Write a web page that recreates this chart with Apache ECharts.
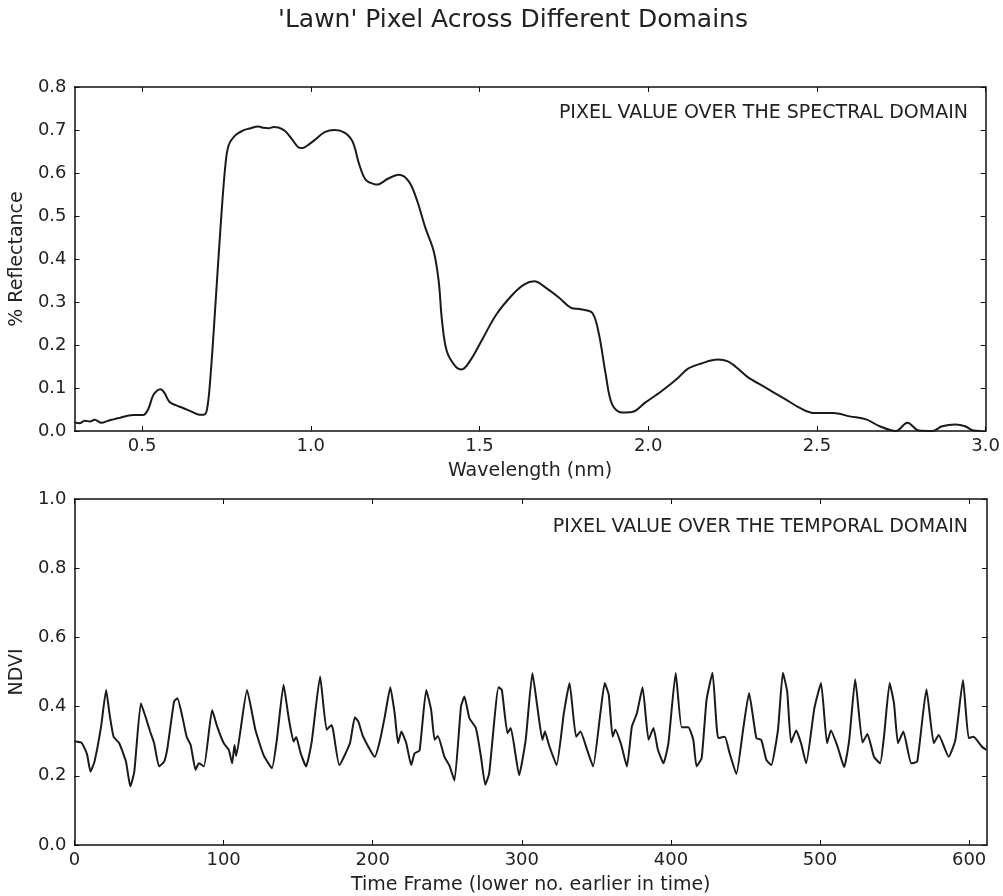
<!DOCTYPE html>
<html>
<head>
<meta charset="utf-8">
<title>'Lawn' Pixel Across Different Domains</title>
<script src="https://cdn.jsdelivr.net/npm/echarts@6/dist/echarts.min.js"></script>
<style>
  html, body { margin: 0; padding: 0; background: #fff; }
  #chart { width: 1003px; height: 896px; }
</style>
</head>
<body>
<div id="chart"></div>
<script>
// spectral domain: wavelength (nm) vs % reflectance
const wavelength = [
  0.300, 0.315, 0.330, 0.346, 0.360, 0.380, 0.400, 0.415, 0.435, 0.454,
  0.475, 0.503, 0.518, 0.532, 0.545, 0.555, 0.567, 0.581, 0.600, 0.620,
  0.650, 0.670, 0.683, 0.693, 0.703, 0.718, 0.733, 0.747, 0.757, 0.777,
  0.800, 0.816, 0.845, 0.860, 0.875, 0.890, 0.904, 0.923, 0.943, 0.963,
  0.975, 0.990, 1.012, 1.041, 1.071, 1.100, 1.124, 1.144, 1.163, 1.188,
  1.198, 1.212, 1.227, 1.261, 1.291, 1.315, 1.339, 1.364, 1.379, 1.389,
  1.403, 1.428, 1.447, 1.472, 1.511, 1.550, 1.599, 1.633, 1.662, 1.697,
  1.736, 1.770, 1.800, 1.834, 1.854, 1.874, 1.893, 1.922, 1.952, 1.991,
  2.040, 2.089, 2.118, 2.157, 2.206, 2.236, 2.260, 2.294, 2.343, 2.402,
  2.451, 2.490, 2.549, 2.597, 2.646, 2.686, 2.734, 2.768, 2.802, 2.842,
  2.871, 2.910, 2.939, 2.964, 2.985
];
const reflectance = [
  0.020, 0.018, 0.024, 0.022, 0.026, 0.019, 0.024, 0.027, 0.031, 0.035,
  0.037, 0.037, 0.050, 0.081, 0.094, 0.097, 0.088, 0.068, 0.060, 0.054,
  0.044, 0.038, 0.038, 0.052, 0.128, 0.299, 0.478, 0.618, 0.665, 0.688,
  0.699, 0.703, 0.708, 0.705, 0.704, 0.707, 0.706, 0.698, 0.680, 0.660,
  0.658, 0.664, 0.677, 0.695, 0.700, 0.694, 0.673, 0.619, 0.584, 0.574,
  0.573, 0.578, 0.586, 0.596, 0.580, 0.536, 0.474, 0.419, 0.349, 0.256,
  0.186, 0.151, 0.143, 0.163, 0.217, 0.271, 0.318, 0.341, 0.348, 0.333,
  0.310, 0.287, 0.283, 0.275, 0.225, 0.132, 0.062, 0.043, 0.044, 0.066,
  0.093, 0.124, 0.145, 0.157, 0.166, 0.162, 0.149, 0.126, 0.103, 0.076,
  0.053, 0.042, 0.042, 0.034, 0.027, 0.011, 0.000, 0.019, 0.001, 0.000,
  0.011, 0.015, 0.011, 0.001, 0.000
];

// temporal domain: time frame vs NDVI
const timeFrame = [
  0, 1.1, 4.5, 6.7, 8.5, 10.7, 13.4, 17.8, 21.2, 23.4, 26.2, 30, 34.5, 37.4, 40.1,
  44.5, 47.9, 50.7, 53.4, 56.7, 60.1, 62.3, 66.8, 69, 72.3, 75.2, 77.9, 81.2,
  83.4, 86.8, 92.3, 95.7, 100.1, 103.5, 105.7, 107.3, 108.4, 115.7, 121.3,
  126.8, 132.4, 135.7, 140.2, 143.5, 146.9, 148.7, 151.7, 155.3, 159.1, 164.7,
  169.1, 172.4, 173.6, 177.6, 184.7, 188, 190.3, 193.6, 201.4, 204.7, 208.1,
  211.8, 214.7, 217, 219.2, 222.5, 225.8, 228.1, 231.4, 235.9, 239.2, 241.5,
  243.7, 248.1, 251.5, 254.8, 259.2, 261.5, 264.8, 269.2, 272.6, 275.5, 278.1,
  284.4, 286.6, 290.4, 292.6, 298.2, 302.6, 307.1, 310.4, 313.8, 315.5, 318.2,
  323.3, 328.2, 332, 336.4, 339.3, 343.8, 347.8, 352.7, 355.6, 358.3, 360.9,
  362.7, 366.7, 370.5, 373.8, 377.2, 381, 385, 388.3, 391.2, 395, 398.3, 403.2,
  407.2, 411.7, 415, 417.2, 420.6, 423.9, 427.9, 431.7, 436.1, 439.4, 443.9,
  448.4, 452.4, 457.3, 460.6, 464, 467.3, 471.8, 475.1, 478, 480.6, 484, 487.3,
  490.7, 496.2, 500.7, 504.7, 507.3, 511.8, 516.2, 519.6, 523.6, 528.5, 531.8,
  536.2, 540.3, 542.9, 546.7, 549.6, 552.3, 555.9, 561.2, 565.2, 571.4, 576.3,
  579.6, 586.3, 590.8, 595.9, 599.7, 603, 608.6, 611.5
];
const ndvi = [
  0.300, 0.299, 0.296, 0.280, 0.260, 0.212, 0.241, 0.342, 0.448, 0.381, 0.313, 0.294, 0.241, 0.169, 0.212,
  0.410, 0.367, 0.328, 0.294, 0.227, 0.241, 0.280, 0.415, 0.424, 0.371, 0.313, 0.289, 0.217,
  0.236, 0.227, 0.390, 0.342, 0.294, 0.275, 0.236, 0.289, 0.257, 0.448, 0.333,
  0.260, 0.222, 0.304, 0.463, 0.371, 0.299, 0.312, 0.265, 0.227, 0.299, 0.487,
  0.333, 0.347, 0.328, 0.231, 0.294, 0.369, 0.357, 0.313, 0.255, 0.299, 0.371,
  0.456, 0.381, 0.294, 0.328, 0.294, 0.231, 0.265, 0.273, 0.448, 0.390, 0.304,
  0.315, 0.255, 0.229, 0.186, 0.400, 0.429, 0.367, 0.338, 0.255, 0.174, 0.207,
  0.456, 0.448, 0.323, 0.338, 0.202, 0.304, 0.497, 0.400, 0.304, 0.328, 0.289,
  0.231, 0.381, 0.468, 0.313, 0.328, 0.275, 0.227, 0.381, 0.468, 0.434, 0.313,
  0.333, 0.289, 0.227, 0.342, 0.381, 0.456, 0.304, 0.338, 0.277, 0.236, 0.294, 0.497,
  0.340, 0.340, 0.304, 0.227, 0.251, 0.419, 0.498, 0.309, 0.313, 0.265, 0.205,
  0.333, 0.439, 0.309, 0.304, 0.246, 0.231, 0.333, 0.498, 0.443, 0.296, 0.331, 0.294,
  0.236, 0.395, 0.468, 0.294, 0.331, 0.284, 0.225, 0.304, 0.479, 0.296, 0.321,
  0.255, 0.236, 0.313, 0.468, 0.410, 0.294, 0.328, 0.236, 0.241, 0.450, 0.294,
  0.318, 0.255, 0.304, 0.477, 0.309, 0.313, 0.284, 0.275
];

const spectralTicks = [0.5, 1.0, 1.5, 2.0, 2.5, 3.0];
const timeTicks = [0, 100, 200, 300, 400, 500, 600];

const FONT = 'DejaVu Sans';
const INK = '#222';

const spectralData = wavelength.map((w, i) => [w, reflectance[i]]);
const temporalData = timeFrame.map((t, i) => [t, ndvi[i]]);

function xAx(gridIndex, position, min, max, ticks, withLabels, name) {
  return {
    type: 'value', gridIndex, position, min, max,
    name: name || '', nameLocation: 'middle', nameGap: 31,
    nameTextStyle: { fontFamily: FONT, fontSize: 19, color: INK },
    axisLine: { show: true, onZero: false, lineStyle: { color: '#111', width: 1.5 } },
    axisTick: { show: true, inside: true, length: 5, customValues: ticks, lineStyle: { color: '#111' } },
    axisLabel: {
      show: withLabels, customValues: ticks, margin: 6,
      fontFamily: FONT, fontSize: 18, color: INK,
      formatter: v => (max <= 3 ? v.toFixed(1) : String(v))
    },
    splitLine: { show: false }
  };
}

function yAx(gridIndex, position, max, interval, withLabels, name) {
  return {
    type: 'value', gridIndex, position, min: 0, max, interval,
    name: name || '', nameLocation: 'middle', nameGap: 42,
    nameTextStyle: { fontFamily: FONT, fontSize: 19, color: INK },
    axisLine: { show: true, onZero: false, lineStyle: { color: '#111', width: 1.5 } },
    axisTick: { show: true, inside: true, length: 5, lineStyle: { color: '#111' } },
    axisLabel: {
      show: withLabels, margin: 8,
      fontFamily: FONT, fontSize: 18, color: INK,
      formatter: v => v.toFixed(1)
    },
    splitLine: { show: false }
  };
}

const option = {
  animation: false,
  backgroundColor: '#fff',
  grid: [
    { left: 70, top: 87, width: 917, height: 344 },
    { left: 70, top: 499, width: 917, height: 346 }
  ],
  xAxis: [
    xAx(0, 'bottom', 0.3, 3.0, spectralTicks, true, 'Wavelength (nm)'),
    xAx(0, 'top', 0.3, 3.0, spectralTicks, false),
    xAx(1, 'bottom', 0, 612, timeTicks, true, 'Time Frame (lower no. earlier in time)'),
    xAx(1, 'top', 0, 612, timeTicks, false)
  ],
  yAxis: [
    yAx(0, 'left', 0.8, 0.1, true, '% Reflectance'),
    yAx(0, 'right', 0.8, 0.1, false),
    yAx(1, 'left', 1.0, 0.2, true, 'NDVI'),
    yAx(1, 'right', 1.0, 0.2, false)
  ],
  graphic: [
    {
      type: 'text', x: 513, y: 20,
      style: {
        text: "'Lawn' Pixel Across Different Domains",
        fontFamily: FONT, fontSize: 25, fill: INK,
        textAlign: 'center', textVerticalAlign: 'middle'
      }
    },
    {
      type: 'text', x: 968, y: 113,
      style: {
        text: 'PIXEL VALUE OVER THE SPECTRAL DOMAIN',
        fontFamily: FONT, fontSize: 19, fill: INK,
        textAlign: 'right', textVerticalAlign: 'middle'
      }
    },
    {
      type: 'text', x: 968, y: 527,
      style: {
        text: 'PIXEL VALUE OVER THE TEMPORAL DOMAIN',
        fontFamily: FONT, fontSize: 19, fill: INK,
        textAlign: 'right', textVerticalAlign: 'middle'
      }
    }
  ],
  series: [
    {
      type: 'line', xAxisIndex: 0, yAxisIndex: 0,
      data: spectralData, showSymbol: false,
      smooth: 0.35,
      lineStyle: { color: '#1a1a1a', width: 2 }
    },
    {
      type: 'line', xAxisIndex: 2, yAxisIndex: 2,
      data: temporalData, showSymbol: false,
      smooth: 0.15,
      lineStyle: { color: '#1a1a1a', width: 2 }
    }
  ]
};

const chart = echarts.init(document.getElementById('chart'));
chart.setOption(option);
</script>
</body>
</html>
